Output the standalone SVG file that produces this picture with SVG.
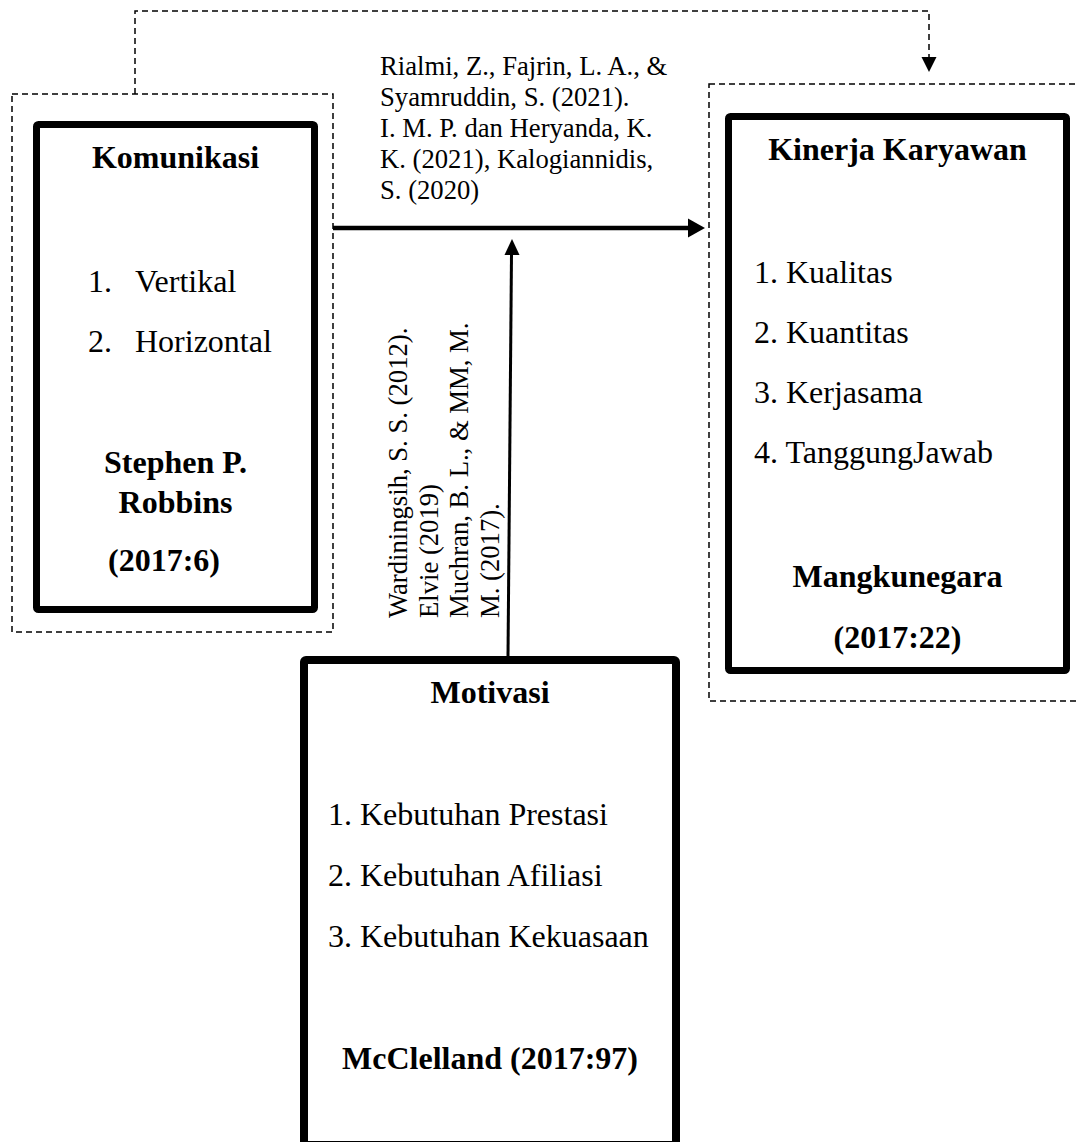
<svg xmlns="http://www.w3.org/2000/svg" width="1076" height="1142" viewBox="0 0 1076 1142">
<style>
text{font-family:"Liberation Serif","Times New Roman",serif;fill:#000}
.b{font-weight:bold;font-size:32px}
.r{font-size:32px}
.c{font-size:26.67px}
.box{fill:none;stroke:#000;stroke-width:7;stroke-linejoin:round}
.dash{fill:none;stroke:#000;stroke-width:1.5;stroke-dasharray:6 4}
</style>
<rect width="1076" height="1142" fill="#fff"/>
<g id="groups">
<rect class="dash" x="12" y="94" width="321" height="538"/>
<rect class="dash" x="709" y="84" width="400" height="617"/>
</g>
<g id="connectors">
<path class="dash" d="M135,94 V11 H929 V57"/>
<polygon points="929,72 921.5,57 936.5,57" fill="#000"/>
<line x1="333" y1="228" x2="690" y2="228" stroke="#000" stroke-width="4.5"/>
<polygon points="705,228 688,218.5 688,237.5" fill="#000"/>
<line x1="508" y1="656" x2="511.5" y2="254" stroke="#000" stroke-width="3"/>
<polygon points="512,239 504.5,255 519.5,255" fill="#000"/>
</g>
<g id="label-top">
<text class="c"><tspan x="380" y="75">Rialmi, Z., Fajrin, L. A., &amp;</tspan><tspan x="380" y="106">Syamruddin, S. (2021).</tspan><tspan x="380" y="137">I. M. P. dan Heryanda, K.</tspan><tspan x="380" y="168">K. (2021), Kalogiannidis,</tspan><tspan x="380" y="199">S. (2020)</tspan></text>
</g>
<g id="label-vertical">
<text class="c" transform="translate(407,618) rotate(-90)"><tspan x="0" y="0">Wardiningsih, S. S. (2012).</tspan><tspan x="0" y="30.7">Elvie (2019)</tspan><tspan x="0" y="61.4">Muchran, B. L., &amp; MM, M.</tspan><tspan x="0" y="92.1">M. (2017).</tspan></text>
</g>
<g id="komunikasi">
<rect class="box" x="36.5" y="124.5" width="278" height="485" rx="2"/>
<text class="b" x="175.5" y="168" text-anchor="middle">Komunikasi</text>
<text class="r" x="88" y="292">1.</text><text class="r" x="135" y="292">Vertikal</text>
<text class="r" x="88" y="352">2.</text><text class="r" x="135" y="352">Horizontal</text>
<text class="b" x="175.5" y="473" text-anchor="middle">Stephen P.</text>
<text class="b" x="175.5" y="513" text-anchor="middle">Robbins</text>
<text class="b" x="164" y="571" text-anchor="middle">(2017:6)</text>
</g>
<g id="kinerja">
<rect class="box" x="728.5" y="116.5" width="338" height="554" rx="2"/>
<text class="b" x="897.5" y="160" text-anchor="middle">Kinerja Karyawan</text>
<text class="r" x="754" y="283">1. Kualitas</text>
<text class="r" x="754" y="343">2. Kuantitas</text>
<text class="r" x="754" y="403">3. Kerjasama</text>
<text class="r" x="754" y="463">4. TanggungJawab</text>
<text class="b" x="897.5" y="587" text-anchor="middle">Mangkunegara</text>
<text class="b" x="897.5" y="648" text-anchor="middle">(2017:22)</text>
</g>
<g id="motivasi">
<rect class="box" x="304" y="660" width="372" height="485" rx="2" style="stroke-width:8"/>
<text class="b" x="490" y="703" text-anchor="middle">Motivasi</text>
<text class="r" x="328" y="825">1. Kebutuhan Prestasi</text>
<text class="r" x="328" y="886">2. Kebutuhan Afiliasi</text>
<text class="r" x="328" y="947">3. Kebutuhan Kekuasaan</text>
<text class="b" x="490" y="1069" text-anchor="middle">McClelland (2017:97)</text>
</g>
</svg>
